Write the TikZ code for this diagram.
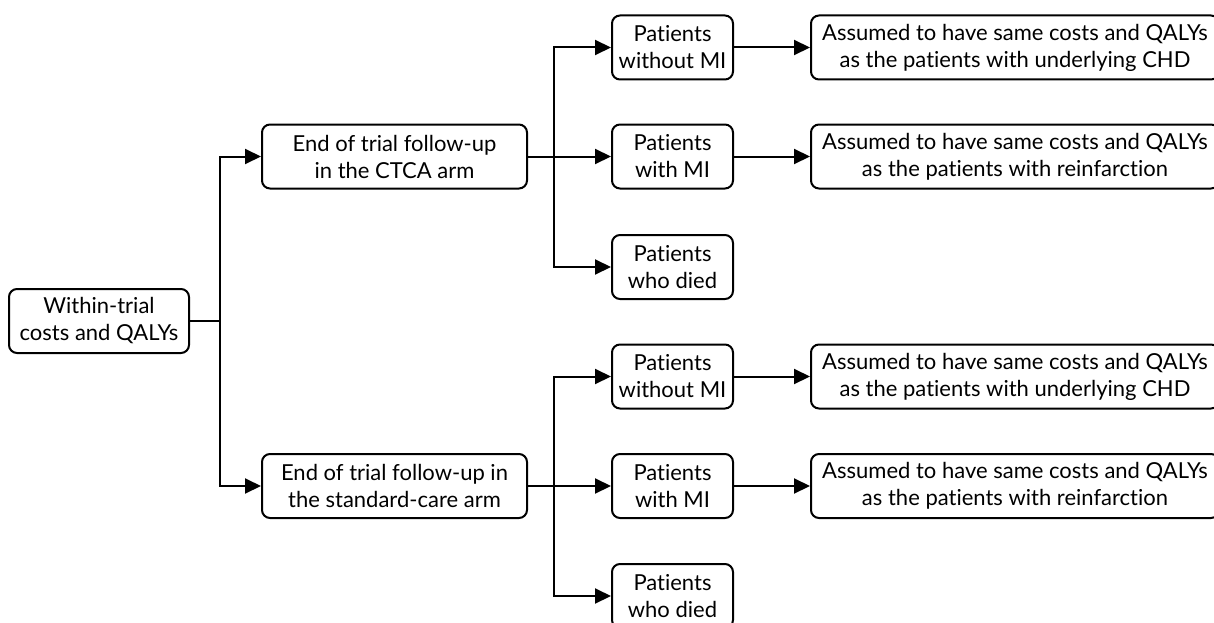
\documentclass[tikz,border=0pt]{standalone}
\usepackage{fontspec}
\setmainfont[Ligatures={NoCommon}]{Lato}
\usetikzlibrary{arrows.meta}
\begin{document}
\begin{tikzpicture}[x=1pt,y=-1pt,
  box/.style={draw,line width=2pt,rounded corners=8pt,align=center,inner sep=0pt,
    font=\fontsize{22}{27}\selectfont,minimum height=64pt},
  arr/.style={line width=2pt,-{Triangle[length=16pt,width=15pt]}}]
\useasboundingbox (0,0) rectangle (1214,623);
\node[box,minimum width=180pt] (root) at (99,321) {Within-trial\\costs and QALYs};
\node[box,minimum width=265pt] (ctca) at (394.5,156.5) {End of trial follow-up\\in the CTCA arm};
\node[box,minimum width=265pt] (std) at (394.5,486) {End of trial follow-up in\\the standard-care arm};
\node[box,minimum width=121pt] (a1) at (672.5,47.5) {Patients\\without MI};
\node[box,minimum width=121pt] (a2) at (672.5,156.5) {Patients\\with MI};
\node[box,minimum width=121pt] (a3) at (672.5,267) {Patients\\who died};
\node[box,minimum width=121pt] (b1) at (672.5,376.5) {Patients\\without MI};
\node[box,minimum width=121pt] (b2) at (672.5,486) {Patients\\with MI};
\node[box,minimum width=121pt] (b3) at (672.5,596) {Patients\\who died};
\node[box,minimum width=408pt] (ra1) at (1015,47.5) {Assumed to have same costs and QALYs\\as the patients with underlying CHD};
\node[box,minimum width=408pt] (ra2) at (1015,156.5) {Assumed to have same costs and QALYs\\as the patients with reinfarction};
\node[box,minimum width=408pt] (rb1) at (1015,376.5) {Assumed to have same costs and QALYs\\as the patients with underlying CHD};
\node[box,minimum width=408pt] (rb2) at (1015,486) {Assumed to have same costs and QALYs\\as the patients with reinfarction};
\draw[arr] (root.east) -- ++(30,0) |- (ctca.west);
\draw[arr] (root.east) -- ++(30,0) |- (std.west);
\draw[arr] (ctca.east) -- (a2.west);
\draw[arr] (ctca.east) -- ++(26,0) |- (a1.west);
\draw[arr] (ctca.east) -- ++(26,0) |- (a3.west);
\draw[arr] (std.east) -- (b2.west);
\draw[arr] (std.east) -- ++(26,0) |- (b1.west);
\draw[arr] (std.east) -- ++(26,0) |- (b3.west);
\draw[arr] (a1.east) -- (ra1.west);
\draw[arr] (a2.east) -- (ra2.west);
\draw[arr] (b1.east) -- (rb1.west);
\draw[arr] (b2.east) -- (rb2.west);
\end{tikzpicture}
\end{document}
